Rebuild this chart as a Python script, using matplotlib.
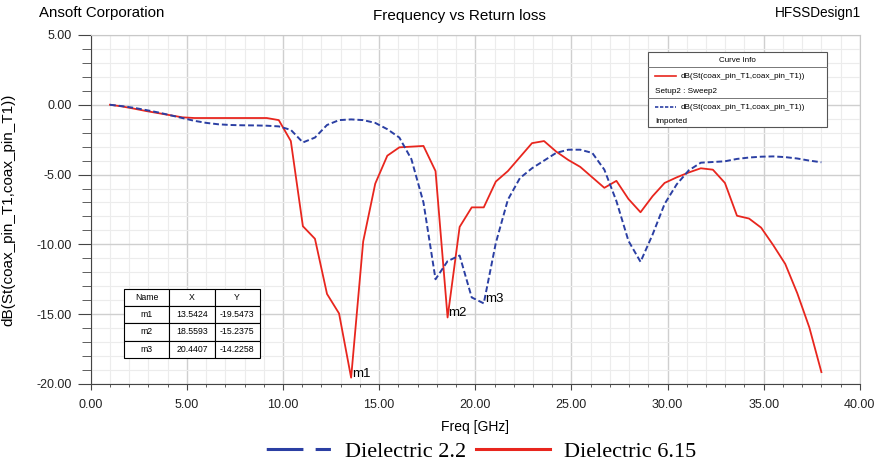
import matplotlib
matplotlib.use('Agg')
import matplotlib.pyplot as plt
from matplotlib.lines import Line2D
from matplotlib.patches import Rectangle
from matplotlib.ticker import MultipleLocator, FormatStrFormatter

plt.rcParams['font.family'] = ['Liberation Sans', 'DejaVu Sans']

# Sweep frequencies (GHz), 60 points from 1 to 38 GHz
freq = [1.000, 1.627, 2.254, 2.881, 3.508, 4.136, 4.763, 5.390, 6.017, 6.644,
        7.271, 7.898, 8.525, 9.153, 9.780, 10.407, 11.034, 11.661, 12.288, 12.915,
        13.5424, 14.169, 14.797, 15.424, 16.051, 16.678, 17.305, 17.932, 18.5593, 19.186,
        19.814, 20.4407, 21.068, 21.695, 22.322, 22.949, 23.576, 24.203, 24.831, 25.458,
        26.085, 26.712, 27.339, 27.966, 28.593, 29.220, 29.847, 30.475, 31.102, 31.729,
        32.356, 32.983, 33.610, 34.237, 34.864, 35.492, 36.119, 36.746, 37.373, 38.000]

# Dielectric 6.15 (Setup2 : Sweep2)
s11_615 = [0.00, -0.12, -0.28, -0.45, -0.60, -0.75, -0.90, -0.95, -0.95, -0.95,
           -0.95, -0.95, -0.95, -0.95, -1.10, -2.60, -8.70, -9.60, -13.55, -14.95,
           -19.5473, -9.80, -5.65, -3.65, -3.05, -3.00, -2.95, -4.75, -15.2375, -8.75,
           -7.35, -7.35, -5.50, -4.75, -3.75, -2.75, -2.60, -3.35, -3.95, -4.45,
           -5.20, -5.95, -5.45, -6.75, -7.70, -6.55, -5.60, -5.20, -4.85, -4.55,
           -4.65, -5.60, -7.95, -8.15, -8.80, -10.05, -11.40, -13.50, -15.95, -19.15]

# Dielectric 2.2 (Imported)
s11_22 = [0.00, -0.10, -0.22, -0.38, -0.55, -0.75, -0.95, -1.15, -1.30, -1.40,
          -1.45, -1.47, -1.48, -1.50, -1.55, -1.80, -2.70, -2.35, -1.45, -1.10,
          -1.05, -1.10, -1.30, -1.75, -2.35, -3.90, -7.00, -12.50, -11.20, -10.80,
          -13.80, -14.2258, -9.90, -6.80, -5.25, -4.55, -4.00, -3.45, -3.22, -3.22,
          -3.45, -4.65, -6.90, -9.75, -11.25, -9.30, -7.10, -5.70, -4.70, -4.15,
          -4.10, -4.05, -3.88, -3.78, -3.72, -3.70, -3.75, -3.85, -4.00, -4.12]

marker_names = ['m1', 'm2', 'm3']
marker_x = [13.5424, 18.5593, 20.4407]
marker_y = [-19.5473, -15.2375, -14.2258]

red = '#e8261e'
blue = '#2b3fa3'

fig = plt.figure(figsize=(8.8, 4.66), dpi=100)
ax = fig.add_axes([0.1031, 0.176, 0.874, 0.749])

ax.plot(freq, s11_615, color=red, lw=1.3, zorder=3)
ax.plot(freq, s11_22, color=blue, lw=1.4, ls=(0, (3, 1.5)), zorder=3)

for name, mx, my in zip(marker_names, marker_x, marker_y):
    ax.annotate(name, (mx, my), xytext=(1, 4), textcoords='offset pixels',
                ha='left', va='center', fontsize=9.5, zorder=5)

ax.set_xlim(0, 40)
ax.set_ylim(-20, 5)
ax.xaxis.set_major_locator(MultipleLocator(5))
ax.xaxis.set_minor_locator(MultipleLocator(1))
ax.yaxis.set_major_locator(MultipleLocator(5))
ax.yaxis.set_minor_locator(MultipleLocator(1))
ax.xaxis.set_major_formatter(FormatStrFormatter('%.2f'))
ax.yaxis.set_major_formatter(FormatStrFormatter('%.2f'))
ax.grid(which='major', color='#cfcfcf', lw=1.0)
ax.grid(which='minor', color='#ececec', lw=0.8)
ax.set_axisbelow(True)
ax.tick_params(axis='x', which='major', length=4, width=0.8, pad=7, labelsize=9)
ax.tick_params(axis='x', which='minor', length=2.5, width=0.6)
ax.tick_params(axis='y', which='major', length=9.5, width=0.8, pad=4, labelsize=9)
ax.tick_params(axis='y', which='minor', length=6.5, width=0.6)
ax.tick_params(which='both', color='#444444', labelcolor='#222222')
for side in ['top', 'right']:
    ax.spines[side].set_color('#c8c8c8')
for side in ['left', 'bottom']:
    ax.spines[side].set_color('#444444')

ax.set_xlabel('Freq [GHz]', fontsize=10, labelpad=6)
ax.set_ylabel('dB(St(coax_pin_T1,coax_pin_T1))', fontsize=11)
ax.yaxis.set_label_coords(-0.098, 0.5)

fig.text(0.522, 0.965, 'Frequency vs Return loss', ha='center', va='center', fontsize=11)
fig.text(0.044, 0.972, 'Ansoft Corporation', ha='left', va='center', fontsize=10.8)
fig.text(0.978, 0.972, 'HFSSDesign1', ha='right', va='center', fontsize=9.8)

# marker table
cells = [[n, f'{x:.4f}', f'{y:.4f}'] for n, x, y in zip(marker_names, marker_x, marker_y)]
tbl = ax.table(cellText=cells, colLabels=['Name', 'X', 'Y'], cellLoc='center',
               bbox=[0.0437, 0.075, 0.176, 0.198], zorder=4)
tbl.auto_set_font_size(False)
tbl.set_fontsize(6.3)
for cell in tbl.get_celld().values():
    cell.set_linewidth(0.8)
    cell.set_facecolor('white')

# curve info box
bx0, bx1, by0, by1 = 0.725, 0.957, 0.736, 0.951
ax.add_patch(Rectangle((bx0, by0), bx1 - bx0, by1 - by0, transform=ax.transAxes,
                       facecolor='white', edgecolor='#555555', lw=0.8, zorder=6))
ax.text((bx0 + bx1) / 2, 0.928, 'Curve Info', transform=ax.transAxes,
        ha='center', va='center', fontsize=5.8, zorder=7)
for yy in [0.907, 0.819]:
    ax.add_line(Line2D([bx0, bx1], [yy, yy], transform=ax.transAxes,
                       color='#777777', lw=0.7, zorder=7))
ax.add_line(Line2D([0.734, 0.761], [0.882, 0.882], transform=ax.transAxes,
                   color=red, lw=1.2, zorder=7))
ax.text(0.767, 0.882, 'dB(St(coax_pin_T1,coax_pin_T1))', transform=ax.transAxes,
        ha='left', va='center', fontsize=5.9, zorder=7)
ax.text(0.734, 0.839, 'Setup2 : Sweep2', transform=ax.transAxes,
        ha='left', va='center', fontsize=5.9, zorder=7)
ax.add_line(Line2D([0.734, 0.761], [0.793, 0.793], transform=ax.transAxes,
                   color=blue, lw=1.2, ls=(0, (2, 1)), zorder=7))
ax.text(0.767, 0.793, 'dB(St(coax_pin_T1,coax_pin_T1))', transform=ax.transAxes,
        ha='left', va='center', fontsize=5.9, zorder=7)
ax.text(0.734, 0.753, 'Imported', transform=ax.transAxes,
        ha='left', va='center', fontsize=5.9, zorder=7)

# bottom legend
handles = [Line2D([], [], color=blue, lw=2.2, ls=(22.3, (12, 4, 5, 4))),
           Line2D([], [], color=red, lw=2.2)]
fig.legend(handles, ['Dielectric 2.2', 'Dielectric 6.15'], loc='center',
           bbox_to_anchor=(0.542, 0.031), ncol=2, frameon=False, handlelength=3.3,
           columnspacing=0.45, handletextpad=0.63,
           prop={'family': 'Liberation Serif', 'size': 16})

fig.savefig('out.png', dpi=100)
